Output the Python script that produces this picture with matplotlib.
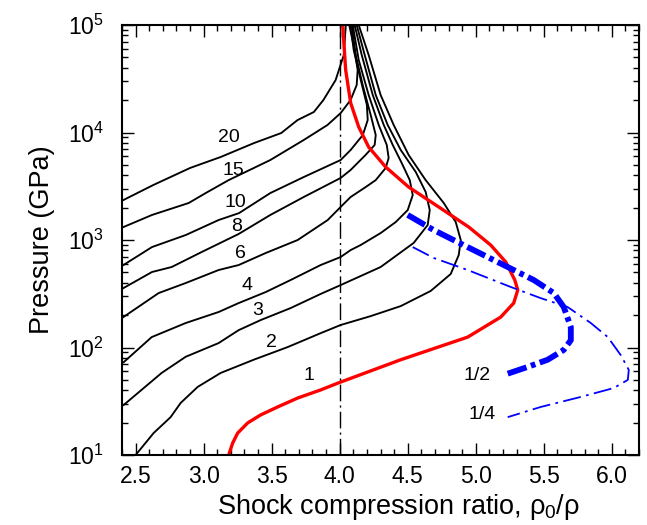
import numpy as np
import matplotlib
matplotlib.use('Agg')
import matplotlib.pyplot as plt

plt.rcParams['font.family'] = ['Liberation Sans', 'DejaVu Sans']
plt.rcParams['mathtext.fontset'] = 'custom'
plt.rcParams['mathtext.rm'] = 'Liberation Sans'
plt.rcParams['mathtext.it'] = 'Liberation Sans'

# black curves, labelled by the number in the plot
x_20 = [2.41, 2.63, 2.90, 3.125, 3.37, 3.57, 3.69, 3.81, 3.88, 3.97, 4.03, 4.045]
p_20 = [2355, 3250, 4680, 5920, 7980, 9890, 13060, 15520, 20040, 30760, 52600, 100000]

x_15 = [2.41, 2.62, 2.89, 3.015, 3.184, 3.49, 3.735, 3.91, 4.007, 4.08, 4.125, 4.132, 4.11, 4.07]
p_15 = [1320, 1710, 2210, 2735, 3610, 5550, 8510, 11750, 15170, 20040, 27670, 38100, 58480, 100000]

x_10 = [2.41, 2.62, 2.87, 3.11, 3.26, 3.49, 3.735, 4.007, 4.08, 4.17, 4.206, 4.2, 4.155, 4.103, 4.08]
p_10 = [585, 860, 1115, 1535, 1780, 2735, 3850, 5550, 6870, 9480, 13060, 18030, 30760, 58480, 100000]

x_8 = [2.41, 2.62, 2.765, 2.985, 3.257, 3.49, 3.735, 4.007, 4.08, 4.19, 4.257, 4.265, 4.228, 4.169, 4.118, 4.088]
p_8 = [357, 504, 561, 773, 1138, 1710, 2510, 3780, 4480, 6180, 7660, 9480, 14550, 27670, 52600, 100000]

x_6 = [2.41, 2.669, 2.868, 3.11, 3.257, 3.456, 3.691, 3.912, 4.007, 4.08, 4.191, 4.265, 4.338, 4.36, 4.346,
       4.287, 4.213, 4.14, 4.096]
p_6 = [192, 321, 398, 526, 585, 757, 1000, 1535, 2030, 2510, 3110, 3610, 4680, 5800, 7660,
       11750, 22340, 47200, 100000]

x_4 = [2.412, 2.618, 2.868, 3.11, 3.257, 3.456, 3.64, 3.86, 4.007, 4.081, 4.154, 4.301, 4.412, 4.5, 4.537,
       4.515, 4.456, 4.39, 4.324, 4.243, 4.162, 4.11]
p_4 = [73, 125, 169, 214, 259, 328, 425, 585, 695, 807, 898, 1161, 1470, 1900, 2620,
       3610, 5200, 7660, 11750, 22340, 52600, 100000]

x_3 = [2.412, 2.691, 2.868, 3.11, 3.257, 3.419, 3.64, 3.86, 4.007, 4.301, 4.544, 4.647, 4.662, 4.632,
       4.559, 4.449, 4.353, 4.265, 4.184, 4.125]
p_3 = [29.2, 58, 82, 110, 145, 180, 233, 315, 381, 561, 940, 1380, 1900, 2800,
       4300, 6870, 11750, 22340, 52600, 100000]

x_2 = [2.5, 2.632, 2.757, 2.831, 2.956, 3.125, 3.368, 3.618, 3.86, 4.007, 4.228, 4.449, 4.669, 4.816,
       4.875, 4.89, 4.853, 4.765, 4.632, 4.507, 4.397, 4.301, 4.213, 4.14]
p_2 = [10, 16, 22.5, 30.5, 43, 58, 77, 101, 136, 162, 196, 243, 336, 483,
       724, 1000, 1470, 2210, 3610, 6180, 11750, 22340, 52600, 100000]

# red curve (1)
x_1 = [3.184, 3.213, 3.25, 3.324, 3.419, 3.544, 3.691, 3.86, 3.993, 4.449, 4.941, 5.184, 5.279, 5.309,
       5.287, 5.221, 5.110, 4.949, 4.706, 4.507, 4.338, 4.213, 4.14, 4.081, 4.044, 4.022]
p_1 = [10, 12.9, 16, 19.9, 23.6, 28, 33.9, 40.3, 47, 77, 125, 192, 259, 343,
       425, 624, 898, 1320, 2118, 3110, 4780, 7330, 11250, 18800, 38100, 100000]

# blue curves
x_half = [4.50, 4.69, 4.94, 5.235, 5.426, 5.574, 5.647, 5.699, 5.699, 5.647, 5.529, 5.382, 5.206]
p_half = [1710, 1240, 860, 561, 425, 321, 238, 155, 117, 95, 77, 66, 55.5]

x_quarter = [4.537, 4.691, 4.941, 5.257, 5.478, 5.676, 5.846, 5.971, 6.066, 6.125, 6.118, 6.015,
             5.772, 5.478, 5.235]
p_quarter = [860, 681, 526, 366, 288, 238, 169, 125, 85, 62, 50, 42, 34.7, 28, 22.5]

x_limit = 4.0

black_curves = [(x_20, p_20), (x_15, p_15), (x_10, p_10), (x_8, p_8), (x_6, p_6),
                (x_4, p_4), (x_3, p_3), (x_2, p_2)]

labels = ['20', '15', '10', '8', '6', '4', '3', '2', '1', '1/2', '1/4']
label_x = [3.184, 3.221, 3.235, 3.243, 3.272, 3.316, 3.397, 3.50, 3.772, 5.007, 5.044]
label_p = [9080, 4480, 2256, 1349, 757, 381, 223, 112, 55.5, 55.5, 23.6]

fig = plt.figure(figsize=(6.47, 5.25), dpi=100)
ax = fig.add_axes([0.1886, 0.1333, 0.799, 0.819])

for xs, ps in black_curves:
    ax.plot(xs, ps, color='black', lw=1.35)

ax.plot(x_1, p_1, color='#ff0000', lw=2.4)
ax.plot(x_half, p_half, color='#0000ff', lw=4.2, linestyle=(0, (3.4, 0.8, 0.8, 0.8)),
        solid_capstyle='butt', dash_capstyle='butt')
ax.plot(x_quarter, p_quarter, color='#0000ff', lw=1.3, linestyle=(0, (10, 3, 1.5, 3)))
ax.axvline(x_limit, color='black', lw=1.0, linestyle=(0, (12, 3, 1.5, 3)))

for t, lx, lp in zip(labels, label_x, label_p):
    ax.text(lx, lp, t, fontsize=14, ha='center', va='center')

ax.set_yscale('log')
ax.set_xlim(2.4, 6.2)
ax.set_ylim(10, 1e5)
ax.set_xticks([2.5, 3.0, 3.5, 4.0, 4.5, 5.0, 5.5, 6.0])
ax.set_xticks(np.arange(2.4, 6.21, 0.1), minor=True)
ax.set_xticklabels(['2.5', '3.0', '3.5', '4.0', '4.5', '5.0', '5.5', '6.0'])

ax.tick_params(which='both', direction='in', top=True, right=True, width=1.0)
ax.tick_params(which='major', length=8.5, labelsize=16.5)
ax.tick_params(which='minor', length=4)
ax.tick_params(axis='x', pad=7)
ax.tick_params(axis='y', pad=13)
for s in ax.spines.values():
    s.set_linewidth(1.5)

ax.set_xlabel(r'Shock compression ratio, $\rho_0/\rho$', fontsize=19.5, labelpad=3)
ax.xaxis.label.set_x(0.534)
ax.set_ylabel('Pressure (GPa)', fontsize=19.5, labelpad=9)

fig.savefig('out.png', dpi=100)
